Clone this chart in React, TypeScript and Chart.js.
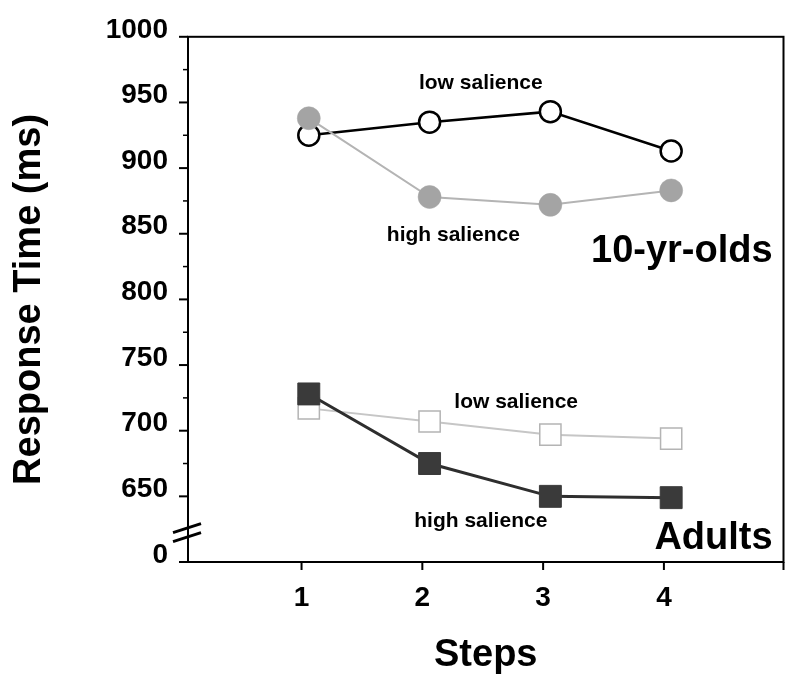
import React, { useEffect, useRef } from "react";
import { Chart, registerables } from "chart.js";

Chart.register(...registerables);

// ---- data ----
const STEPS = [1, 2, 3, 4];
const KIDS_LOW_SALIENCE = [925, 935, 943, 913];
const KIDS_HIGH_SALIENCE = [938, 878, 872, 883];
const ADULT_LOW_SALIENCE = [717, 707, 697, 694];
const ADULT_HIGH_SALIENCE = [728, 675, 650, 649];

const Y_MAJOR_TICKS = [600, 650, 700, 750, 800, 850, 900, 950, 1000];
const Y_TICK_LABELS = ["0", "650", "700", "750", "800", "850", "900", "950", "1000"];
const Y_MINOR_TICKS = [675, 725, 775, 825, 875, 925, 975];
const X_TICK_LABELS = ["1", "2", "3", "4"];

const X_TITLE = "Steps";
const Y_TITLE = "Response Time (ms)";

// ---- styling ----
const FONT = "'Liberation Sans', Arial, Helvetica, sans-serif";
const TICK_SHIFT = 0.06; // tick marks sit slightly left of the plotted points
const X_MIN = 0;
const X_MAX = 4.93;
const Y_MIN = 600;
const Y_MAX = 1000;

const toXY = (vals: number[]) => STEPS.map((s, i) => ({ x: s, y: vals[i] }));

const decorPlugin = {
  id: "decor",
  afterDraw(chart: any) {
    const { ctx, chartArea: a, scales } = chart;
    const xs = scales.x;
    const ys = scales.y;
    ctx.save();
    ctx.strokeStyle = "#000";
    ctx.lineCap = "butt";

    // frame
    ctx.lineWidth = 2;
    ctx.strokeRect(a.left, a.top, a.right - a.left, a.bottom - a.top);

    // y ticks
    ctx.lineWidth = 2;
    Y_MAJOR_TICKS.forEach((v) => {
      const py = ys.getPixelForValue(v);
      ctx.beginPath();
      ctx.moveTo(a.left - 9, py);
      ctx.lineTo(a.left, py);
      ctx.stroke();
    });
    ctx.lineWidth = 1.5;
    Y_MINOR_TICKS.forEach((v) => {
      const py = ys.getPixelForValue(v);
      ctx.beginPath();
      ctx.moveTo(a.left - 5, py);
      ctx.lineTo(a.left, py);
      ctx.stroke();
    });

    // x ticks
    ctx.lineWidth = 2;
    [...STEPS.map((s) => s - TICK_SHIFT), X_MAX].forEach((v) => {
      const px = xs.getPixelForValue(v);
      ctx.beginPath();
      ctx.moveTo(px, a.bottom);
      ctx.lineTo(px, a.bottom + 8);
      ctx.stroke();
    });

    // axis break marks
    const mid = ys.getPixelForValue(625);
    ctx.lineWidth = 3;
    [mid - 1, mid + 8].forEach((cy) => {
      ctx.beginPath();
      ctx.moveTo(a.left - 15, cy + 4.5);
      ctx.lineTo(a.left + 13, cy - 4.5);
      ctx.stroke();
    });

    // annotations
    ctx.fillStyle = "#000";
    ctx.textBaseline = "middle";
    const put = (text: string, xv: number, yv: number, size: number, align: CanvasTextAlign) => {
      ctx.font = `bold ${size}px ${FONT}`;
      ctx.textAlign = align;
      ctx.fillText(text, xs.getPixelForValue(xv), ys.getPixelForValue(yv));
    };
    put("low salience", 2.424, 964.6, 21, "center");
    put("high salience", 2.197, 848.7, 21, "center");
    put("10-yr-olds", 4.84, 836.7, 38, "right");
    put("low salience", 2.717, 721.5, 21, "center");
    put("high salience", 2.424, 631.2, 21, "center");
    put("Adults", 4.84, 617.8, 38, "right");
    ctx.restore();
  },
};

export default function App() {
  const canvasRef = useRef<HTMLCanvasElement | null>(null);

  useEffect(() => {
    if (!canvasRef.current) return;
    const chart = new Chart(canvasRef.current, {
      type: "line",
      data: {
        datasets: [
          {
            label: "10-yr-olds high salience",
            data: toXY(KIDS_HIGH_SALIENCE),
            borderColor: "#b4b4b4",
            borderWidth: 2,
            pointStyle: "circle",
            pointRadius: 11.5,
            pointBackgroundColor: "#a4a4a4",
            pointBorderColor: "#a4a4a4",
            pointBorderWidth: 0.5,
          },
          {
            label: "10-yr-olds low salience",
            data: toXY(KIDS_LOW_SALIENCE),
            borderColor: "#000",
            borderWidth: 2.5,
            pointStyle: "circle",
            pointRadius: 10.5,
            pointBackgroundColor: "#fff",
            pointBorderColor: "#000",
            pointBorderWidth: 2.5,
          },
          {
            label: "Adults high salience",
            data: toXY(ADULT_HIGH_SALIENCE),
            borderColor: "#2e2e2e",
            borderWidth: 3,
            pointStyle: "rect",
            pointRadius: 15.5,
            pointBackgroundColor: "#3a3a3a",
            pointBorderColor: "#3a3a3a",
            pointBorderWidth: 1,
          },
          {
            label: "Adults low salience",
            data: toXY(ADULT_LOW_SALIENCE),
            borderColor: "#c6c6c6",
            borderWidth: 2,
            pointStyle: "rect",
            pointRadius: 15,
            pointBackgroundColor: "#fff",
            pointBorderColor: "#b4b4b4",
            pointBorderWidth: 1.5,
          },
        ],
      },
      options: {
        responsive: false,
        animation: false,
        layout: { padding: { top: 30, right: 6, left: 0, bottom: 0 } },
        plugins: {
          legend: { display: false },
          tooltip: { enabled: false },
        },
        scales: {
          x: {
            type: "linear",
            min: X_MIN,
            max: X_MAX,
            grid: { display: false, drawTicks: false },
            border: { display: false },
            afterBuildTicks: (scale: any) => {
              scale.ticks = STEPS.map((s) => ({ value: s - TICK_SHIFT }));
            },
            afterFit: (scale: any) => {
              scale.height = 122;
            },
            ticks: {
              autoSkip: false,
              maxRotation: 0,
              padding: 19,
              color: "#000",
              font: { family: FONT, size: 28, weight: "bold" },
              callback: (v: any) => {
                const i = STEPS.indexOf(Math.round(Number(v)));
                return i >= 0 ? X_TICK_LABELS[i] : "";
              },
            },
            title: {
              display: true,
              text: X_TITLE,
              color: "#000",
              font: { family: FONT, size: 38, weight: "bold" },
              padding: { top: 0, bottom: 6 },
            },
          },
          y: {
            type: "linear",
            min: Y_MIN,
            max: Y_MAX,
            grid: { display: false, drawTicks: false },
            border: { display: false },
            afterBuildTicks: (scale: any) => {
              scale.ticks = Y_MAJOR_TICKS.map((v) => ({ value: v }));
            },
            afterFit: (scale: any) => {
              scale.width = 188;
            },
            ticks: {
              autoSkip: false,
              padding: 20,
              labelOffset: -7,
              color: "#000",
              font: { family: FONT, size: 28, weight: "bold" },
              callback: (v: any) => {
                const i = Y_MAJOR_TICKS.indexOf(Number(v));
                return i >= 0 ? Y_TICK_LABELS[i] : "";
              },
            },
            title: {
              display: true,
              text: Y_TITLE,
              color: "#000",
              font: { family: FONT, size: 38, weight: "bold" },
              padding: { top: 7, bottom: 0 },
            },
          },
        },
      },
      plugins: [decorPlugin],
    } as any);
    return () => chart.destroy();
  }, []);

  return (
    <div style={{ position: "fixed", left: 0, top: 0, width: 800, height: 684, background: "#fff" }}>
      <canvas ref={canvasRef} width={800} height={684} style={{ display: "block" }} />
    </div>
  );
}
